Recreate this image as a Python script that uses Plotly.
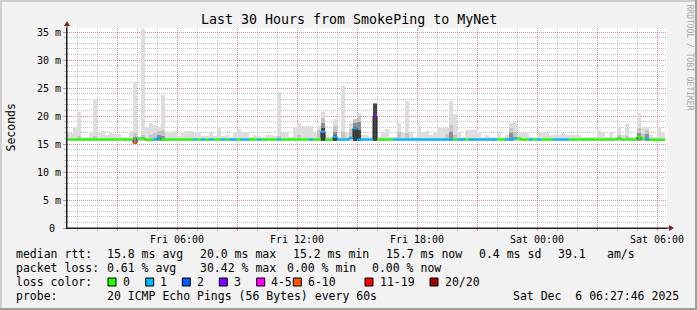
import plotly.graph_objects as go
from datetime import datetime, timedelta

# ---------------- data (12-minute consolidated slots, ms) ----------------
slot_start = datetime(2025, 12, 5, 0, 24)
slot_minutes = 12

smoke_max = [
    16.9, 16.9, 18.0, 20.8, 16.3, 16.3, 17.2, 23.0, 16.9, 17.3,
    16.6, 17.0, 16.7, 16.7, 16.3, 16.3, 17.3, 26.0, 16.3, 35.6,
    18.0, 18.8, 18.4, 18.0, 23.7, 17.0, 16.9, 17.3, 16.5, 17.1,
    17.3, 17.3, 16.9, 17.1, 16.4, 16.4, 17.0, 16.4, 17.9, 16.5,
    16.6, 16.3, 17.1, 17.7, 17.1, 17.1, 16.3, 16.6, 16.4, 16.3,
    16.6, 16.6, 16.4, 24.3, 16.9, 16.9, 16.3, 18.0, 18.8, 18.2,
    18.2, 18.2, 17.0, 18.3, 20.8, 16.6, 16.3, 19.4, 16.3, 25.4,
    16.9, 18.7, 18.3, 20.6, 16.6, 16.6, 16.3, 22.4, 16.3, 17.0,
    17.6, 16.3, 16.3, 18.7, 17.0, 22.7, 17.0, 16.3, 18.2, 17.2,
    17.3, 16.6, 16.9, 17.9, 17.9, 17.9, 22.6, 20.4, 17.1, 16.3,
    17.5, 17.5, 17.5, 17.1, 16.3, 16.6, 16.3, 16.3, 16.9, 16.3,
    16.6, 18.7, 18.9, 16.9, 16.9, 16.9, 16.3, 16.3, 16.9, 17.1,
    17.0, 16.6, 16.6, 16.6, 17.0, 16.6, 16.6, 16.6, 16.6, 16.3,
    16.3, 16.3, 16.3, 17.5, 17.1, 16.3, 17.1, 16.3, 18.0, 16.6,
    18.5, 16.3, 16.3, 20.6, 18.1, 18.1, 16.6, 16.3, 17.9, 17.0,
]

smoke_mid = [
    16.1, 16.1, 16.1, 16.4, 16.1, 16.1, 16.1, 16.4, 16.1, 16.1,
    16.1, 16.1, 16.1, 16.1, 16.1, 16.1, 16.1, 17.0, 16.1, 16.6,
    16.1, 16.6, 17.0, 17.4, 17.5, 16.1, 16.1, 16.1, 16.1, 16.1,
    16.1, 16.1, 16.1, 16.1, 16.1, 16.1, 16.1, 16.1, 16.1, 16.1,
    16.1, 16.1, 16.1, 16.1, 16.1, 16.1, 16.1, 16.1, 16.1, 16.1,
    16.1, 16.1, 16.1, 16.5, 16.1, 16.1, 16.1, 16.1, 16.6, 16.1,
    16.1, 16.1, 16.1, 17.5, 19.6, 16.1, 16.1, 18.2, 16.1, 17.2,
    16.1, 17.6, 19.4, 20.0, 16.1, 16.1, 16.1, 22.35, 16.1, 16.1,
    16.1, 16.1, 16.1, 17.2, 16.1, 17.0, 16.1, 16.1, 16.1, 16.1,
    16.1, 16.1, 16.1, 16.1, 16.1, 16.8, 18.4, 16.6, 16.1, 16.1,
    16.1, 16.1, 16.1, 16.1, 16.1, 16.1, 16.1, 16.1, 16.1, 16.1,
    16.1, 17.8, 17.2, 16.1, 16.1, 16.1, 16.1, 16.1, 16.1, 16.1,
    16.1, 16.1, 16.1, 16.1, 16.1, 16.1, 16.1, 16.1, 16.1, 16.1,
    16.1, 16.1, 16.1, 16.1, 16.1, 16.1, 16.1, 16.1, 16.6, 16.1,
    16.5, 16.1, 16.1, 17.8, 16.8, 17.5, 16.1, 16.1, 16.1, 16.1,
]

N = None
smoke_dark = [
    N, N, N, N, N, N, N, N, N, N,
    N, N, N, N, N, N, N, 16.3, N, N,
    N, N, N, 16.6, 16.5, N, N, N, N, N,
    N, N, N, N, N, N, N, N, N, N,
    N, N, N, N, N, N, N, N, N, N,
    N, N, N, N, N, N, N, N, N, N,
    N, N, N, N, 18.8, N, N, 17.2, N, N,
    N, N, 18.8, 19.0, N, N, N, 22.3, N, N,
    N, N, N, N, N, N, N, N, N, N,
    N, N, N, N, N, N, 17.2, N, N, N,
    N, N, N, N, N, N, N, N, N, N,
    N, 16.9, N, N, N, N, N, N, N, N,
    N, N, N, N, N, N, N, N, N, N,
    N, N, N, N, N, N, N, N, N, N,
    N, N, N, 17.0, N, 16.8, N, N, N, N,
]

smoke_core = [
    N, N, N, N, N, N, N, N, N, N,
    N, N, N, N, N, N, N, N, N, N,
    N, N, N, N, N, N, N, N, N, N,
    N, N, N, N, N, N, N, N, N, N,
    N, N, N, N, N, N, N, N, N, N,
    N, N, N, N, N, N, N, N, N, N,
    N, N, N, N, 17.8, N, N, 16.6, N, N,
    N, N, 18.0, 17.5, N, N, N, 22.1, N, N,
    N, N, N, N, N, N, N, N, N, N,
    N, N, N, N, N, N, N, N, N, N,
    N, N, N, N, N, N, N, N, N, N,
    N, N, N, N, N, N, N, N, N, N,
    N, N, N, N, N, N, N, N, N, N,
    N, N, N, N, N, N, N, N, N, N,
    N, N, N, N, N, N, N, N, N, N,
]

smoke_lo = [
    15.6, 15.6, 15.6, 15.6, 15.6, 15.6, 15.6, 15.6, 15.6, 15.6,
    15.6, 15.6, 15.6, 15.6, 15.6, 15.6, 15.6, 15.1, 15.6, 15.6,
    15.6, 15.6, 15.6, 15.6, 15.6, 15.6, 15.6, 15.6, 15.6, 15.6,
    15.6, 15.6, 15.6, 15.6, 15.6, 15.6, 15.6, 15.6, 15.6, 15.6,
    15.6, 15.6, 15.6, 15.6, 15.6, 15.6, 15.6, 15.6, 15.6, 15.6,
    15.6, 15.6, 15.6, 15.6, 15.6, 15.6, 15.6, 15.6, 15.6, 15.6,
    15.6, 15.6, 15.6, 15.6, 15.6, 15.6, 15.6, 15.6, 15.6, 15.6,
    15.6, 15.6, 15.6, 15.6, 15.6, 15.6, 15.6, 15.6, 15.6, 15.6,
    15.6, 15.6, 15.6, 15.6, 15.6, 15.6, 15.6, 15.6, 15.6, 15.6,
    15.6, 15.6, 15.6, 15.6, 15.6, 15.6, 15.6, 15.6, 15.6, 15.6,
    15.6, 15.6, 15.6, 15.6, 15.6, 15.6, 15.6, 15.6, 15.6, 15.6,
    15.6, 15.6, 15.6, 15.6, 15.6, 15.6, 15.6, 15.6, 15.6, 15.6,
    15.6, 15.6, 15.6, 15.6, 15.6, 15.6, 15.6, 15.6, 15.6, 15.6,
    15.6, 15.6, 15.6, 15.6, 15.6, 15.6, 15.6, 15.6, 15.6, 15.6,
    15.6, 15.6, 15.6, 15.6, 15.6, 15.6, 15.6, 15.6, 15.6, 15.6,
]

median = [
    15.8, 15.8, 15.8, 15.8, 15.8, 15.8, 15.8, 15.8, 15.8, 15.8,
    15.8, 15.8, 15.8, 15.8, 15.8, 15.8, 15.8, 15.2, 16.0, 16.0,
    15.75, 15.75, 15.8, 16.1, 15.8, 15.8, 15.8, 15.8, 15.8, 15.8,
    15.8, 15.8, 15.8, 15.8, 15.8, 15.8, 15.8, 15.8, 15.8, 15.8,
    15.8, 15.8, 15.8, 15.8, 15.8, 15.8, 15.8, 15.8, 15.8, 15.8,
    15.8, 15.8, 15.8, 15.8, 15.8, 15.8, 15.8, 15.8, 15.8, 15.8,
    15.8, 15.8, 15.8, 15.8, 17.2, 15.75, 15.75, 16.3, 15.8, 15.8,
    15.8, 16.1, 17.8, 15.8, 15.8, 15.8, 15.8, 20.0, 15.8, 15.8,
    15.8, 15.8, 15.8, 15.8, 15.8, 15.8, 15.8, 15.8, 15.8, 15.8,
    15.8, 15.8, 15.8, 15.8, 15.8, 15.8, 15.8, 15.8, 15.8, 15.8,
    15.8, 15.8, 15.8, 15.8, 15.8, 15.8, 15.8, 15.8, 15.8, 15.8,
    15.8, 15.8, 16.0, 16.0, 15.8, 15.8, 15.8, 15.8, 15.8, 15.8,
    15.8, 15.8, 15.8, 15.8, 15.8, 15.8, 15.8, 15.8, 15.8, 15.8,
    15.8, 15.8, 15.8, 15.8, 15.8, 15.8, 15.8, 15.8, 16.0, 15.8,
    15.8, 15.8, 15.8, 16.3, 15.95, 15.95, 15.75, 15.75, 15.75, 15.75,
]

# loss class per slot: 0 -> "0", 1 -> "1", 2 -> "2", 3 -> "3", 4 -> "4-5", 5 -> "6-10", 6 -> "11-19", 7 -> "20/20"
loss_class = [
    0, 0, 0, 0, 0, 0, 0, 0, 0, 0,
    0, 0, 0, 0, 0, 0, 0, 5, 0, 0,
    0, 0, 1, 1, 0, 0, 0, 0, 0, 0,
    0, 0, 1, 0, 1, 0, 1, 0, 0, 1,
    0, 1, 1, 0, 1, 1, 0, 0, 1, 0,
    0, 0, 0, 1, 0, 0, 0, 0, 0, 0,
    0, 1, 0, 0, 1, 0, 0, 1, 1, 1,
    1, 1, 1, 1, 1, 1, 1, 3, 0, 0,
    0, 0, 1, 1, 1, 1, 1, 1, 1, 1,
    1, 1, 1, 1, 1, 1, 1, 0, 1, 1,
    0, 1, 1, 1, 1, 1, 1, 1, 0, 0,
    1, 1, 1, 0, 0, 0, 1, 0, 1, 0,
    0, 0, 1, 1, 1, 1, 0, 0, 0, 0,
    0, 0, 0, 0, 0, 0, 0, 0, 0, 0,
    0, 0, 0, 0, 0, 1, 0, 0, 0, 0,
]

loss_labels = ["0", "1", "2", "3", "4-5", "6-10", "11-19", "20/20"]
loss_colors = ["#26ff00", "#00b8ff", "#0059ff", "#7e00ff", "#ff00ff", "#ff5500", "#ff0000", "#a10000"]

y_ticks = [0, 5, 10, 15, 20, 25, 30, 35]
y_ticktext = ["0\u00a0", "5 m", "10 m", "15 m", "20 m", "25 m", "30 m", "35 m"]
x_tickvals = [datetime(2025, 12, 5, 3), datetime(2025, 12, 5, 6), datetime(2025, 12, 5, 9),
              datetime(2025, 12, 5, 12), datetime(2025, 12, 5, 15), datetime(2025, 12, 5, 18),
              datetime(2025, 12, 5, 21), datetime(2025, 12, 6, 0), datetime(2025, 12, 6, 3),
              datetime(2025, 12, 6, 6)]
x_ticktext = ["", "Fri 06:00", "", "Fri 12:00", "", "Fri 18:00", "", "Sat 00:00", "", "Sat 06:00"]

legend_rows = [
    [("median rtt:", 16), ("15.8 ms avg", 107.3), ("20.0 ms max", 200), ("15.2 ms min", 293.3),
     ("15.7 ms now", 385.7), ("0.4 ms sd", 479.3), ("39.1", 558.3), ("am/s", 607.3)],
    [("packet loss:", 16), ("0.61 % avg", 107.3), ("30.42 % max", 200), ("0.00 % min", 286.7),
     ("0.00 % now", 372.3)],
    [("loss color:", 16)],
    [("probe:", 16), ("20 ICMP Echo Pings (56 Bytes) every 60s", 107.3),
     ("Sat Dec \u00a06 06:27:46 2025", 513.3)],
]
legend_row_y = [254, 268, 282, 296]
loss_box_x = [108, 145.7, 182.3, 219.3, 256.7, 293.3, 365, 430]
loss_label_x = [123.3, 160, 197.3, 234.3, 270.7, 308.3, 380, 445]

# ---------------- geometry helpers (pixel -> paper) ----------------
L, R, T, B = 67, 667, 28, 228
W, H = 697, 310
def px(x):
    return (x - L) / (R - L)
def py(y):
    return (B - y) / (B - T)

MONO = "DejaVu Sans Mono"

n = len(smoke_max)
step = timedelta(minutes=slot_minutes)
t_left = [slot_start + step * i for i in range(n)]
t_right = [t + step for t in t_left]
t_mid = [t + step / 2 for t in t_left]
bar_w = slot_minutes * 60 * 1000

fig = go.Figure()

def smoke_layer(tops, color):
    xs, ys, bs = [], [], []
    for t, top, lo in zip(t_mid, tops, smoke_lo):
        if top is None:
            continue
        xs.append(t); ys.append(top - lo); bs.append(lo)
    fig.add_trace(go.Bar(x=xs, y=ys, base=bs, width=bar_w, marker=dict(color=color, line=dict(width=0)),
                         showlegend=False, hoverinfo="skip"))

smoke_layer(smoke_max, "#dddddd")
smoke_layer(smoke_mid, "#c4c4c4")
smoke_layer(smoke_dark, "#8e8e8e")
smoke_layer(smoke_core, "#444444")

# median: dark step line then loss-coloured segments
fig.add_trace(go.Scatter(x=t_left + [t_right[-1]], y=median + [median[-1]], mode="lines",
                         line=dict(color="#202020", width=1, shape="hv"), showlegend=False, hoverinfo="skip"))
for k, col in enumerate(loss_colors):
    xs, ys = [], []
    for i in range(n):
        if loss_class[i] == k:
            xs += [t_left[i], t_right[i], None]
            ys += [median[i], median[i], None]
    if xs:
        fig.add_trace(go.Scatter(x=xs, y=ys, mode="lines", line=dict(color=col, width=2.2),
                                 showlegend=False, hoverinfo="skip", connectgaps=False))

grid_minor = "rgba(150,150,150,0.55)"
grid_major = "rgba(235,90,90,0.55)"

fig.update_layout(
    width=W, height=H, autosize=False,
    margin=dict(l=L, r=W - R, t=T, b=H - B, pad=0),
    paper_bgcolor="#f2f2f2", plot_bgcolor="#ffffff",
    barmode="overlay", bargap=0, showlegend=False,
    font=dict(family=MONO, size=10, color="#000000"),
    xaxis=dict(
        type="date", range=[datetime(2025, 12, 5, 0, 30), datetime(2025, 12, 6, 6, 30)],
        tickmode="array", tickvals=x_tickvals, ticktext=x_ticktext,
        showgrid=True, gridcolor=grid_major, griddash="1px,1px", gridwidth=1,
        ticks="outside", ticklen=2, tickcolor=grid_major, tickwidth=1,
        showline=True, linecolor="#1f1f1f", linewidth=1, zeroline=False,
        tickfont=dict(family=MONO, size=10, color="#000"),
        minor=dict(tickmode="linear", tick0="2025-12-05 00:00", dtick=3600000, showgrid=True,
                   gridcolor=grid_minor, griddash="1px,1px", gridwidth=1,
                   ticks="outside", ticklen=2, tickcolor=grid_minor),
        fixedrange=True,
    ),
    yaxis=dict(
        range=[0, 35.714], tickmode="array", tickvals=y_ticks, ticktext=y_ticktext,
        showgrid=True, gridcolor=grid_major, griddash="1px,1px", gridwidth=1,
        ticks="outside", ticklen=3, tickcolor=grid_major, tickwidth=1,
        showline=True, linecolor="#1f1f1f", linewidth=1, zeroline=False,
        tickfont=dict(family=MONO, size=10, color="#000"),
        minor=dict(tickmode="linear", tick0=0, dtick=1, showgrid=True,
                   gridcolor=grid_minor, griddash="1px,1px", gridwidth=1,
                   ticks="outside", ticklen=2, tickcolor=grid_minor),
        fixedrange=True,
    ),
)

shapes = []
# frame shading
shapes.append(dict(type="rect", xref="paper", yref="paper", x0=px(0), x1=px(W), y0=py(0), y1=py(2),
                   fillcolor="#cfcfcf", line=dict(width=0), layer="above"))
shapes.append(dict(type="rect", xref="paper", yref="paper", x0=px(0), x1=px(2), y0=py(0), y1=py(H),
                   fillcolor="#cfcfcf", line=dict(width=0), layer="above"))
shapes.append(dict(type="rect", xref="paper", yref="paper", x0=px(0), x1=px(W), y0=py(H - 2), y1=py(H),
                   fillcolor="#9e9e9e", line=dict(width=0), layer="above"))
shapes.append(dict(type="rect", xref="paper", yref="paper", x0=px(W - 2), x1=px(W), y0=py(0), y1=py(H),
                   fillcolor="#9e9e9e", line=dict(width=0), layer="above"))
# axis extensions and arrows
shapes.append(dict(type="line", xref="paper", yref="paper", x0=px(L), x1=px(L), y0=py(B), y1=py(24),
                   line=dict(color="#1f1f1f", width=1), layer="above"))
shapes.append(dict(type="line", xref="paper", yref="paper", x0=px(L), x1=px(670), y0=py(B), y1=py(B),
                   line=dict(color="#1f1f1f", width=1), layer="above"))
shapes.append(dict(type="path", xref="paper", yref="paper",
                   path=f"M {px(L-3)},{py(26)} L {px(L+3)},{py(26)} L {px(L)},{py(21)} Z",
                   fillcolor="#801f1f", line=dict(width=0), layer="above"))
shapes.append(dict(type="path", xref="paper", yref="paper",
                   path=f"M {px(669)},{py(B-3)} L {px(669)},{py(B+3)} L {px(674)},{py(B)} Z",
                   fillcolor="#801f1f", line=dict(width=0), layer="above"))
# loss colour legend boxes
for bx, col in zip(loss_box_x, loss_colors):
    shapes.append(dict(type="rect", xref="paper", yref="paper", x0=px(bx), x1=px(bx + 8),
                       y0=py(278), y1=py(286), fillcolor=col, line=dict(color="#000000", width=1),
                       layer="above"))
fig.update_layout(shapes=shapes)

def ann(text, x, y, size=11.5, xanchor="left", color="#000000", angle=0):
    return dict(text=text, x=px(x), y=py(y), xref="paper", yref="paper", xanchor=xanchor,
                yanchor="middle", showarrow=False, borderpad=0, borderwidth=0, textangle=angle,
                font=dict(family=MONO, size=size, color=color))

annotations = [ann("Last 30 Hours from SmokePing to MyNet", 348.5, 19, size=13.3, xanchor="center"),
               ann("Seconds", 10.5, 128, size=11.5, xanchor="center", angle=-90),
               ann("RRDTOOL / TOBI OETIKER", 689, 57.5, size=8, xanchor="center", color="#a8a8a8", angle=90)]
for row, yy in zip(legend_rows, legend_row_y):
    for text, xx in row:
        annotations.append(ann(text, xx, yy))
for lx, lab in zip(loss_label_x, loss_labels):
    annotations.append(ann(lab, lx, legend_row_y[2]))
fig.update_layout(annotations=annotations)

fig.write_html("out.html")
